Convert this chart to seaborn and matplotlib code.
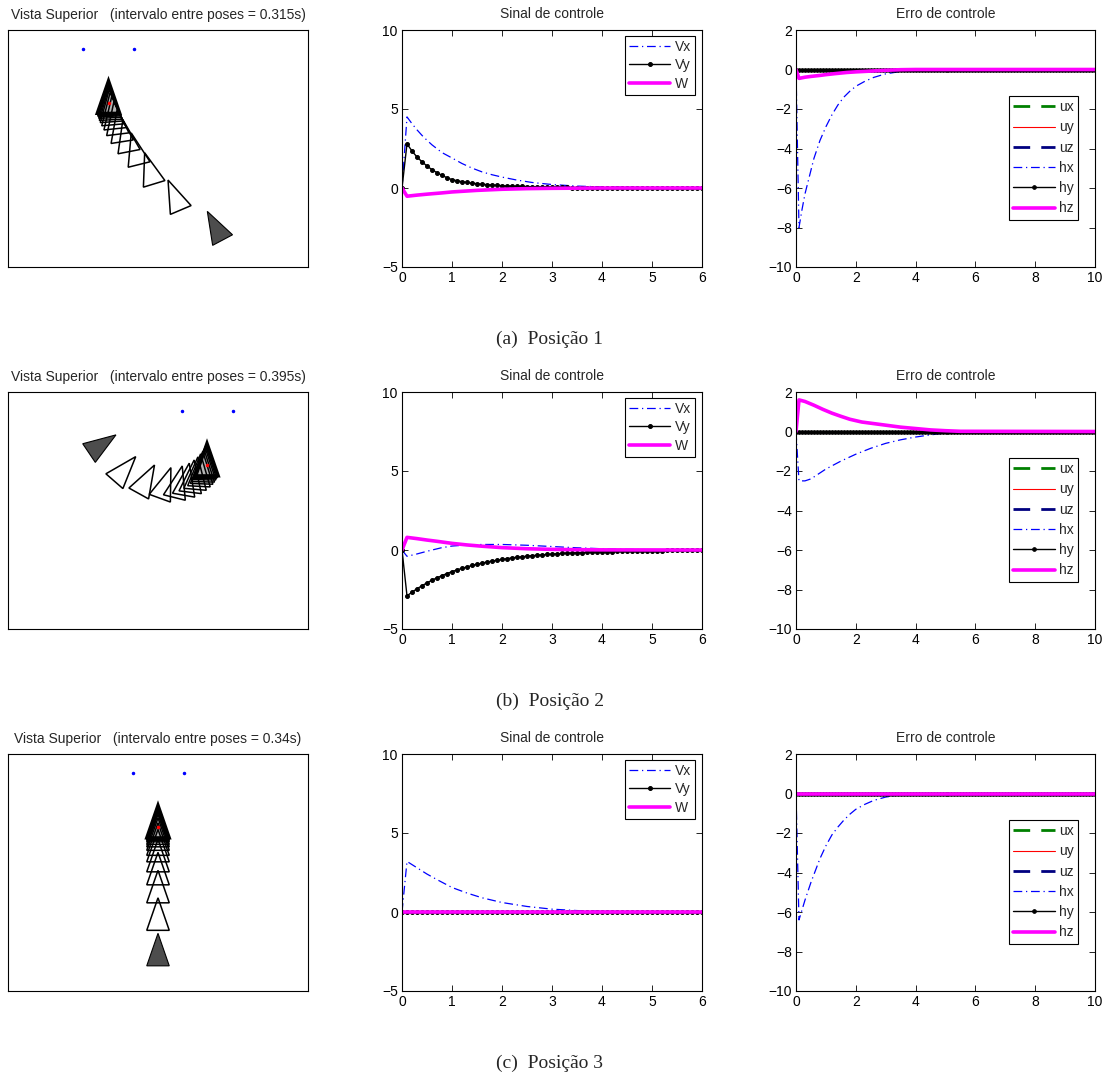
import numpy as np
import matplotlib
matplotlib.use("Agg")
import matplotlib.pyplot as plt
from matplotlib.patches import Polygon
import seaborn as sns

sns.set_style("white")
plt.rcParams['font.family'] = ['Liberation Sans', 'DejaVu Sans']
plt.rcParams['font.size'] = 10

# ---------------- DATA ----------------
t_ctrl = np.round(np.arange(0, 6.01, 0.1), 1)    # sampling grid, control signal
t_err = np.round(np.arange(0, 10.01, 0.1), 1)    # sampling grid, control error

# Posicao 1 - control signal
vx1_t = [0, 0.1, 0.2, 0.3, 0.4, 0.5, 0.6, 0.8, 1.0, 1.2, 1.4, 1.6, 1.8, 2.0, 2.3, 2.6, 3.0, 3.5, 4.0, 5.0, 6.0]
vx1 = [0, 4.5, 4.07, 3.68, 3.33, 3.02, 2.73, 2.24, 1.90, 1.55, 1.26, 1.02, 0.84, 0.69, 0.50, 0.35, 0.22, 0.12, 0.07, 0.02, 0.0]
vy1 = [0.0, 2.80, 2.34, 1.96, 1.66, 1.39, 1.16, 0.97, 0.80, 0.65, 0.53,
       0.46, 0.40, 0.35, 0.31, 0.27, 0.24, 0.21, 0.19, 0.17, 0.15,
       0.13, 0.12, 0.11, 0.10, 0.09, 0.08, 0.07, 0.06, 0.06, 0.05,
       0.05, 0.04, 0.04, 0.03, 0.03, 0.03, 0.02, 0.02, 0.02, 0.02,
       0.01, 0.01, 0.01, 0.01, 0.01, 0.01, 0.01, 0.00, 0.00, 0.00,
       0.00, 0.00, 0.00, 0.00, 0.00, 0.00, 0.00, 0.00, 0.00, 0.00]
w1_t = [0, 0.1, 0.3, 0.5, 0.8, 1.0, 1.5, 2.0, 2.5, 3.0, 3.5, 4.0, 6.0]
w1 = [0, -0.52, -0.45, -0.39, -0.31, -0.25, -0.15, -0.08, -0.04, -0.02, -0.01, 0.0, 0.0]

# Posicao 1 - control error
hx1_t = [0, 0.1, 0.2, 0.3, 0.4, 0.5, 0.6, 0.8, 1.0, 1.2, 1.4, 1.6, 1.8, 2.0, 2.3, 2.6, 3.0, 3.5, 4.0, 5.0, 10.0]
hx1 = [0, -8.0, -7.1, -6.3, -5.7, -5.1, -4.5, -3.6, -2.9, -2.3, -1.8, -1.4, -1.1, -0.85, -0.6, -0.4, -0.22, -0.1, -0.04, 0.0, 0.0]
hz1_t = [0, 0.1, 0.3, 0.5, 0.8, 1.0, 1.3, 1.7, 2.0, 2.5, 3.0, 3.5, 4.0, 10.0]
hz1 = [0, -0.45, -0.39, -0.35, -0.3, -0.26, -0.21, -0.15, -0.12, -0.08, -0.04, -0.01, 0.0, 0.0]

# Posicao 2 - control signal
vx2_t = [0, 0.1, 0.3, 0.5, 0.8, 1.0, 1.3, 1.6, 2.0, 2.5, 3.0, 3.5, 4.0, 4.5, 5.0, 6.0]
vx2 = [0, -0.4, -0.25, -0.08, 0.15, 0.25, 0.32, 0.35, 0.35, 0.30, 0.22, 0.14, 0.08, 0.04, 0.02, 0.0]
vy2 = [0.0, -2.90, -2.67, -2.45, -2.26, -2.08, -1.91, -1.76, -1.62, -1.49, -1.37,
       -1.26, -1.16, -1.07, -0.98, -0.90, -0.83, -0.76, -0.70, -0.65, -0.60,
       -0.55, -0.50, -0.46, -0.43, -0.39, -0.36, -0.33, -0.31, -0.28, -0.26,
       -0.24, -0.22, -0.20, -0.19, -0.17, -0.16, -0.15, -0.13, -0.12, -0.11,
       -0.10, -0.10, -0.09, -0.08, -0.07, -0.07, -0.06, -0.06, -0.05, -0.05,
       -0.04, -0.04, -0.03, -0.03, -0.03, -0.03, -0.02, -0.02, -0.02, -0.02]
w2_t = [0, 0.1, 0.3, 0.5, 0.7, 1.0, 1.3, 1.6, 2.0, 2.5, 3.0, 3.5, 4.0, 6.0]
w2 = [0, 0.8, 0.72, 0.63, 0.55, 0.42, 0.32, 0.24, 0.15, 0.08, 0.04, 0.02, 0.01, 0.0]

# Posicao 2 - control error
hx2_t = [0, 0.1, 0.3, 0.5, 0.8, 1.0, 1.5, 2.0, 2.5, 3.0, 3.5, 4.0, 4.5, 5.0, 5.5, 10.0]
hx2 = [0, -2.5, -2.5, -2.4, -2.1, -1.9, -1.5, -1.15, -0.85, -0.6, -0.42, -0.28, -0.17, -0.08, -0.02, 0.0]
hz2_t = [0, 0.1, 0.3, 0.6, 0.9, 1.2, 1.5, 1.8, 2.2, 2.6, 3.0, 3.5, 4.0, 4.5, 5.0, 5.5, 10.0]
hz2 = [0, 1.6, 1.52, 1.33, 1.12, 0.93, 0.77, 0.62, 0.48, 0.40, 0.32, 0.22, 0.15, 0.08, 0.04, 0.01, 0.0]

# Posicao 3 - control signal
vx3_t = [0, 0.1, 0.2, 0.3, 0.5, 0.7, 1.0, 1.3, 1.6, 2.0, 2.5, 3.0, 3.5, 4.0, 5.0, 6.0]
vx3 = [0, 3.2, 3.0, 2.8, 2.4, 2.05, 1.55, 1.2, 0.9, 0.6, 0.35, 0.18, 0.09, 0.04, 0.01, 0.0]
vy3 = [0.0] * len(t_ctrl)
w3_t = [0, 6.0]
w3 = [0.0, 0.0]

# Posicao 3 - control error
hx3_t = [0, 0.1, 0.2, 0.3, 0.4, 0.5, 0.6, 0.8, 1.0, 1.2, 1.4, 1.6, 1.8, 2.0, 2.3, 2.6, 3.0, 3.5, 4.0, 10.0]
hx3 = [0, -6.4, -5.9, -5.4, -4.95, -4.5, -4.1, -3.3, -2.65, -2.1, -1.7, -1.35, -1.05, -0.8, -0.55, -0.35, -0.18, -0.06, -0.02, 0.0]
hz3_t = [0, 10.0]
hz3 = [0.0, 0.0]

# zero error components (all rows)
u_zero_t = [0, 10.0]
u_zero = [0.0, 0.0]
hy_zero = [0.0] * len(t_err)

# top view poses: x, y, heading (deg); first is the start pose
p1x = [1.19, 0.37, -0.14, -0.43, -0.62, -0.75, -0.83, -0.88, -0.92, -0.945, -0.96, -0.97, -0.98, -0.985, -0.99, -0.99, -0.99, -0.99, -0.99]
p1y = [-1.64, -1.03, -0.50, -0.11, 0.15, 0.35, 0.50, 0.61, 0.69, 0.75, 0.79, 0.83, 0.86, 0.88, 0.895, 0.905, 0.91, 0.915, 0.92]
p1th = [118, 113, 107, 104, 101, 99, 97, 96, 95, 94, 93, 92.5, 92, 91.5, 91, 90.7, 90.4, 90.2, 90]
p2x = [-1.20, -0.73, -0.28, 0.11, 0.38, 0.55, 0.67, 0.76, 0.83, 0.88, 0.91, 0.935, 0.95, 0.965, 0.975, 0.98, 0.98, 0.98]
p2y = [1.27, 0.75, 0.53, 0.45, 0.47, 0.52, 0.58, 0.64, 0.70, 0.75, 0.79, 0.83, 0.86, 0.88, 0.895, 0.905, 0.91, 0.91]
p2th = [34, 49, 61, 70, 76, 80, 83, 85, 87, 88, 88.7, 89.2, 89.5, 89.7, 89.9, 90, 90, 90]
p3x = [0, 0, 0, 0, 0, 0, 0, 0, 0, 0, 0, 0, 0, 0, 0, 0, 0]
p3y = [-1.65, -0.94, -0.39, -0.03, 0.23, 0.43, 0.56, 0.66, 0.73, 0.78, 0.83, 0.86, 0.88, 0.89, 0.90, 0.905, 0.91]
p3th = [90, 90, 90, 90, 90, 90, 90, 90, 90, 90, 90, 90, 90, 90, 90, 90, 90]

marks_x = [[-1.50, -0.48], [0.47, 1.49], [-0.51, 0.51]]
marks_y = [[2.0, 2.0], [2.0, 2.0], [2.0, 2.0]]
goal_x = [-0.99, 0.98, 0.0]
goal_y = [0.92, 0.91, 0.91]

intervals = ["0.315s", "0.395s", "0.34s"]
captions = ["(a)  Posição 1", "(b)  Posição 2", "(c)  Posição 3"]

# ---------------- STYLE ----------------
DASHDOT = (0, (7, 3, 1, 3))
DASHED = (0, (6, 4))
BLUE, MAGENTA, GREEN, RED, NAVY = '#0000ff', '#ff00ff', '#008000', '#ff0000', '#000080'

TRI_L, TRI_W = 0.65, 0.45


def triangle(ax, x, y, th, **kw):
    a = np.deg2rad(th)
    d = np.array([np.cos(a), np.sin(a)])
    n = np.array([-d[1], d[0]])
    c = np.array([x, y])
    apex = c + d * TRI_L * 2 / 3
    base = c - d * TRI_L / 3
    pts = [apex, base + n * TRI_W / 2, base - n * TRI_W / 2]
    ax.add_patch(Polygon(pts, closed=True, **kw))


def frame(ax):
    for s in ax.spines.values():
        s.set_color('black')
        s.set_linewidth(0.8)
        s.set_visible(True)


def matlab_axes(ax):
    frame(ax)
    ax.tick_params(direction='in', top=True, right=True, bottom=True, left=True,
                   length=4, width=0.6, labelsize=10, pad=3, colors='black')


def legend(ax, anchor, spacing):
    leg = ax.legend(loc='upper right', bbox_to_anchor=anchor, fontsize=10,
                    handlelength=3.0, handletextpad=0.3, labelspacing=spacing,
                    borderpad=0.3, fancybox=False, framealpha=1, borderaxespad=0)
    leg.get_frame().set_edgecolor('black')
    leg.get_frame().set_linewidth(0.8)


fig = plt.figure(figsize=(11.08, 10.8), dpi=100)
W, H = 1108.0, 1080.0
row_tops = [30, 392, 754]
ax_h = 237

rows = [
    dict(px=p1x, py=p1y, pth=p1th,
         vx=(vx1_t, vx1), vy=vy1, w=(w1_t, w1), hx=(hx1_t, hx1), hz=(hz1_t, hz1)),
    dict(px=p2x, py=p2y, pth=p2th,
         vx=(vx2_t, vx2), vy=vy2, w=(w2_t, w2), hx=(hx2_t, hx2), hz=(hz2_t, hz2)),
    dict(px=p3x, py=p3y, pth=p3th,
         vx=(vx3_t, vx3), vy=vy3, w=(w3_t, w3), hx=(hx3_t, hx3), hz=(hz3_t, hz3)),
]

for i, r in enumerate(rows):
    top = row_tops[i]
    bottom = 1 - (top + ax_h) / H

    # top view
    ax0 = fig.add_axes([8 / W, bottom, 300 / W, ax_h / H])
    ax0.set_xlim(-3, 3)
    ax0.set_ylim(-2.37, 2.37)
    ax0.set_xticks([])
    ax0.set_yticks([])
    frame(ax0)
    n = len(r['px'])
    triangle(ax0, r['px'][-1], r['py'][-1], r['pth'][-1], facecolor='#b5b5b5', edgecolor='none')
    for k in range(1, n):
        triangle(ax0, r['px'][k], r['py'][k], r['pth'][k], facecolor='none',
                 edgecolor='black', lw=1.1)
    triangle(ax0, r['px'][-1], r['py'][-1], r['pth'][-1], facecolor='none',
             edgecolor='black', lw=2.4)
    triangle(ax0, r['px'][0], r['py'][0], r['pth'][0], facecolor='#4d4d4d',
             edgecolor='black', lw=0.8)
    ax0.plot(marks_x[i], marks_y[i], '.', color=BLUE, ms=3)
    ax0.plot([goal_x[i]], [goal_y[i]], '.', color=RED, ms=3)
    ax0.set_title("Vista Superior   (intervalo entre poses = %s)" % intervals[i],
                  fontsize=10, pad=8)

    # control signal
    ax1 = fig.add_axes([402 / W, bottom, 300 / W, ax_h / H])
    sns.lineplot(x=r['vx'][0], y=r['vx'][1], ax=ax1, color=BLUE, lw=0.9,
                 linestyle=DASHDOT, label='Vx')
    sns.lineplot(x=t_ctrl, y=r['vy'], ax=ax1, color='black', lw=1.0,
                 marker='o', ms=2.8, mec='black', label='Vy')
    sns.lineplot(x=r['w'][0], y=r['w'][1], ax=ax1, color=MAGENTA, lw=2.6, label='W')
    ax1.set_xlim(0, 6)
    ax1.set_ylim(-5, 10)
    ax1.set_xticks(range(0, 7))
    ax1.set_yticks([-5, 0, 5, 10])
    ax1.set_xlabel('')
    ax1.set_ylabel('')
    matlab_axes(ax1)
    legend(ax1, (1 - 7 / 300, 1 - 6 / ax_h), 0.3)
    ax1.set_title("Sinal de controle", fontsize=10, pad=9)

    # control error
    ax2 = fig.add_axes([796 / W, bottom, 299 / W, ax_h / H])
    sns.lineplot(x=u_zero_t, y=u_zero, ax=ax2, color=GREEN, lw=2.0, linestyle=DASHED, label='ux')
    sns.lineplot(x=u_zero_t, y=u_zero, ax=ax2, color=RED, lw=0.8, label='uy')
    sns.lineplot(x=u_zero_t, y=u_zero, ax=ax2, color=NAVY, lw=2.0, linestyle=DASHED, label='uz')
    sns.lineplot(x=r['hx'][0], y=r['hx'][1], ax=ax2, color=BLUE, lw=0.9,
                 linestyle=DASHDOT, label='hx')
    sns.lineplot(x=t_err, y=hy_zero, ax=ax2, color='black', lw=1.0,
                 marker='o', ms=2.6, mec='black', label='hy')
    sns.lineplot(x=r['hz'][0], y=r['hz'][1], ax=ax2, color=MAGENTA, lw=2.6, label='hz')
    ax2.set_xlim(0, 10)
    ax2.set_ylim(-10, 2)
    ax2.set_xticks(range(0, 11, 2))
    ax2.set_yticks(range(-10, 3, 2))
    ax2.set_xlabel('')
    ax2.set_ylabel('')
    matlab_axes(ax2)
    legend(ax2, (1 - 17 / 299, 1 - 66 / ax_h), 0.45)
    ax2.set_title("Erro de controle", fontsize=10, pad=9)

    fig.text(550 / W, 1 - (top + 309) / H, captions[i], ha='center', va='center',
             family=['Liberation Serif', 'DejaVu Serif'], fontsize=14)

fig.savefig("out.png", dpi=100)
